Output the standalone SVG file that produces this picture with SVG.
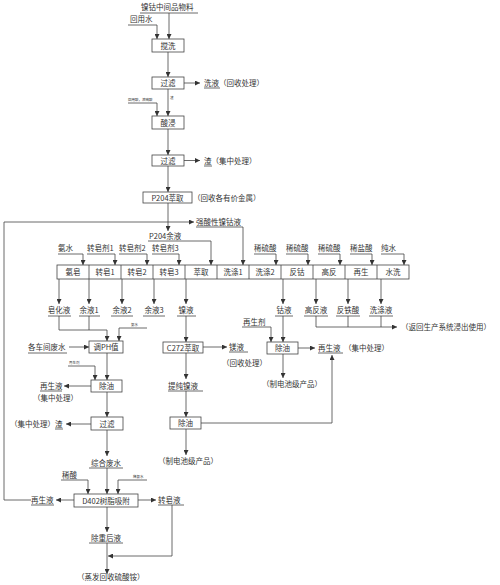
<svg xmlns="http://www.w3.org/2000/svg" width="500" height="585" viewBox="0 0 500 585">
<defs>
<marker id="ah" viewBox="0 0 10 10" refX="10" refY="5" markerWidth="5" markerHeight="5" markerUnits="userSpaceOnUse" orient="auto">
<path d="M0,0 L10,5 L0,10 z" fill="#333"/>
</marker>
</defs>
<style>
text{font-family:"Noto Sans CJK SC","Liberation Serif",serif;font-size:7.5px;fill:#333}
.t{font-size:3.5px}
.c{text-anchor:middle}
.b{fill:#fff;stroke:#444;stroke-width:0.8}
.l{fill:none;stroke:#444;stroke-width:0.8}
.a{fill:none;stroke:#444;stroke-width:0.8;marker-end:url(#ah)}
</style>
<rect width="500" height="585" fill="#fff"/>

<g id="top-labels">
<text x="141" y="10">镍钴中间品物料</text>
<text x="130" y="22">回用水</text>
<text class="t" x="128" y="101">回用酸，浓硫酸</text>
<text class="t" x="170" y="99">渣</text>
</g>

<g id="n-jiaoxi"><rect class="b" x="152" y="39" width="32" height="13"/><text class="c" x="168" y="48.5">搅洗</text></g>
<g id="n-guolv1"><rect class="b" x="152" y="77" width="32" height="12"/><text class="c" x="168" y="86">过滤</text></g>
<g id="n-xiye"><text x="204" y="86">洗液（回收处理）</text></g>
<g id="n-suanjin"><rect class="b" x="152" y="116" width="32" height="13"/><text class="c" x="168" y="125.5">酸浸</text></g>
<g id="n-guolv2"><rect class="b" x="152" y="155" width="32" height="11"/><text class="c" x="168" y="163.5">过滤</text></g>
<g id="n-zha1"><text x="204" y="164">渣（集中处理）</text></g>
<g id="n-p204"><rect class="b" x="143" y="192" width="49" height="11"/><text class="c" x="167.5" y="200.5">P204萃取</text></g>
<g id="n-huishou"><text x="193" y="201">（回收各有价金属）</text></g>
<g id="n-qiangsuan"><text x="196" y="225">强酸性镍钴液</text></g>
<g id="n-p204yu"><text x="149" y="239">P204余液</text></g>

<g id="row-inputs">
<text x="58" y="251">氨水</text>
<text x="87" y="251">转皂剂1</text>
<text x="119" y="251">转皂剂2</text>
<text x="152" y="251">转皂剂3</text>
<text x="254" y="251">稀硫酸</text>
<text x="286" y="251">稀硫酸</text>
<text x="318" y="251">稀硫酸</text>
<text x="350" y="251">稀盐酸</text>
<text x="381" y="251">纯水</text>
</g>

<g id="row">
<rect class="b" x="57" y="265" width="352" height="14"/>
<path class="l" d="M89,265V279M121,265V279M153,265V279M185,265V279M217,265V279M249,265V279M281,265V279M313,265V279M345,265V279M377,265V279"/>
<text class="c" x="73" y="274.5">氨皂</text>
<text class="c" x="105" y="274.5">转皂1</text>
<text class="c" x="137" y="274.5">转皂2</text>
<text class="c" x="169" y="274.5">转皂3</text>
<text class="c" x="201" y="274.5">萃取</text>
<text class="c" x="233" y="274.5">洗涤1</text>
<text class="c" x="265" y="274.5">洗涤2</text>
<text class="c" x="297" y="274.5">反钴</text>
<text class="c" x="329" y="274.5">高反</text>
<text class="c" x="361" y="274.5">再生</text>
<text class="c" x="393" y="274.5">水洗</text>
</g>

<g id="row-outputs">
<text class="c" x="59" y="313">皂化液</text>
<text class="c" x="89" y="313">余液1</text>
<text class="c" x="122" y="313">余液2</text>
<text class="c" x="154" y="313">余液3</text>
<text class="c" x="186" y="313">镍液</text>
<text class="c" x="284" y="313">钴液</text>
<text class="c" x="316" y="313">高反液</text>
<text class="c" x="348" y="313">反铁酸</text>
<text class="c" x="381" y="313">洗涤液</text>
<text x="401" y="330">（返回生产系统浸出使用）</text>
</g>

<g id="n-tiaoph">
<text class="t" x="131" y="326">氨水</text>
<text x="28" y="350">各车间废水</text>
<rect class="b" x="89" y="341" width="34" height="12"/><text class="c" x="106" y="350">调PH值</text>
</g>
<g id="n-chuyou1">
<text class="t" x="69" y="364">再生剂</text>
<rect class="b" x="91" y="380" width="31" height="12"/><text class="c" x="106.5" y="389">除油</text>
<text x="40" y="389">再生液</text>
<text x="33" y="401">（集中处理）</text>
</g>
<g id="n-guolv3">
<rect class="b" x="91" y="417" width="32" height="13"/><text class="c" x="107" y="426.5">过滤</text>
<text x="10" y="427">（集中处理）渣</text>
</g>
<g id="n-zonghe"><text class="c" x="106" y="466">综合废水</text></g>
<g id="n-d402">
<text x="62" y="478">稀酸</text>
<text class="t" x="133" y="478">稀氨水</text>
<rect class="b" x="74" y="494" width="64" height="13"/><text class="c" x="106" y="503.5">D402树脂吸附</text>
<text x="31" y="503">再生液</text>
<text x="158" y="503">转皂液</text>
</g>
<g id="n-chuzhong"><text class="c" x="106" y="541">除重后液</text></g>
<g id="n-zhengfa"><text x="77" y="580">（蒸发回收硫酸铵）</text></g>

<g id="n-c272">
<rect class="b" x="163" y="342" width="40" height="11"/><text class="c" x="183" y="350.5">C272萃取</text>
<text x="229" y="350">镁液</text>
<text x="222" y="366">（回收处理）</text>
<text x="168" y="389">提纯镍液</text>
</g>
<g id="n-chuyou2">
<rect class="b" x="170" y="417" width="31" height="12"/><text class="c" x="185.5" y="426">除油</text>
<text x="158" y="464">（制电池级产品）</text>
</g>
<g id="n-chuyou3">
<text x="243" y="325">再生剂</text>
<rect class="b" x="267" y="342" width="31" height="12"/><text class="c" x="282.5" y="351">除油</text>
<text x="318" y="351">再生液</text>
<text x="344" y="351">（集中处理）</text>
<text x="262" y="387">（制电池级产品）</text>
</g>

<g id="connectors">
<path class="l" d="M140,13H198M128,25H157M204,88H220M128,103H157M204,166H212M148,241H211M196,227H243"/>
<path class="l" d="M58,254H83M87,254H115M119,254H147M152,254H179M254,254H276M286,254H308M318,254H340M350,254H372M381,254H404"/>
<path class="l" d="M48,316H71M79,316H100M111,316H133M143,316H165M177,316H196M275,316H293M304,316H328M336,316H360M369,316H393"/>
<path class="l" d="M119,328H147M28,353H67M68,366H95M40,391H62M55,429H63M89,468H123M61,480H88M118,480H147M31,505H54M158,505H184M89,543H123M229,352H248M168,391H203M242,327H271M318,353H343"/>
<path class="a" d="M169,13V39"/>
<path class="a" d="M157,25V39"/>
<path class="a" d="M168,52V77"/>
<path class="a" d="M184,83H200"/>
<path class="a" d="M168,89V116"/>
<path class="a" d="M157,103V116"/>
<path class="a" d="M168,129V155"/>
<path class="a" d="M184,160.5H200"/>
<path class="a" d="M168,166V192"/>
<path class="a" d="M168,203V231"/>
<path class="a" d="M31,500H4V222H194"/>
<path class="a" d="M243,227V265"/>
<path class="a" d="M211,241V265"/>
<path class="a" d="M83,254V265"/>
<path class="a" d="M115,254V265"/>
<path class="a" d="M147,254V265"/>
<path class="a" d="M179,254V265"/>
<path class="a" d="M276,254V265"/>
<path class="a" d="M308,254V265"/>
<path class="a" d="M340,254V265"/>
<path class="a" d="M372,254V265"/>
<path class="a" d="M404,254V265"/>
<path class="a" d="M59,279V304"/>
<path class="a" d="M89,279V304"/>
<path class="a" d="M122,279V304"/>
<path class="a" d="M154,279V304"/>
<path class="a" d="M186,279V304"/>
<path class="a" d="M283,279V304"/>
<path class="a" d="M316,279V304"/>
<path class="a" d="M348,279V304"/>
<path class="a" d="M381,279V304"/>
<path class="l" d="M316,316V327M348,316V327M381,316V327"/>
<path class="a" d="M316,327H397"/>
<path class="l" d="M59,316V330M89,316V330"/>
<path class="a" d="M59,330H107V341"/>
<path class="a" d="M119,328V341"/>
<path class="a" d="M69,347H89"/>
<path class="a" d="M107,353V380"/>
<path class="a" d="M95,366V380"/>
<path class="a" d="M91,386H64"/>
<path class="a" d="M107,392V417"/>
<path class="a" d="M91,424H66"/>
<path class="a" d="M107,430V456"/>
<path class="a" d="M107,468V494"/>
<path class="a" d="M88,480V494"/>
<path class="a" d="M118,480V494"/>
<path class="a" d="M74,500H56"/>
<path class="a" d="M138,500H156"/>
<path class="a" d="M107,507V532"/>
<path class="a" d="M172,505V556H108"/>
<path class="a" d="M107,543V574"/>
<path class="a" d="M186,316V342"/>
<path class="a" d="M203,347H227"/>
<path class="a" d="M186,353V379"/>
<path class="a" d="M186,391V417"/>
<path class="a" d="M186,429V455"/>
<path class="a" d="M201,423H332V355"/>
<path class="a" d="M283,316V342"/>
<path class="a" d="M271,327V342"/>
<path class="a" d="M298,348H315"/>
<path class="a" d="M283,354V378"/>
</g>
</svg>
